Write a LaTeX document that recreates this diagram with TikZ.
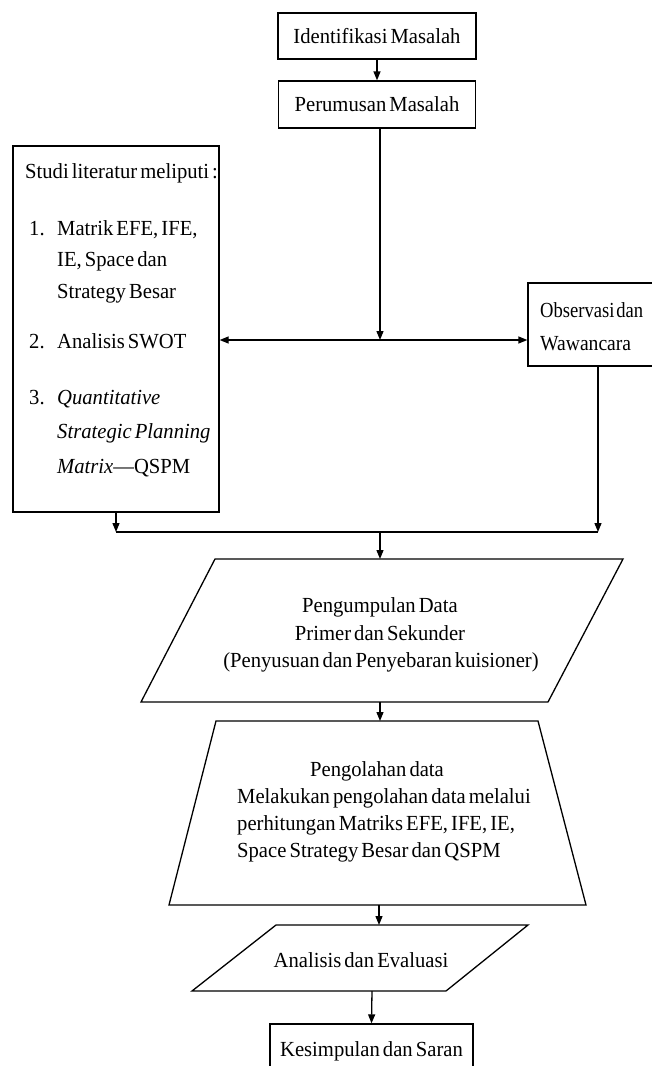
\documentclass[tikz,border=0pt]{standalone}
\usepackage{graphicx}
\usepackage{fontspec}
\setmainfont{Liberation Serif}[FakeStretch=0.96, WordSpace=0.6]
\usetikzlibrary{arrows.meta}
\begin{document}
\begin{tikzpicture}[x=1pt,y=-1pt,
  font=\fontsize{21.5}{28}\selectfont,
  box/.style={draw, line width=1.3pt, inner sep=0pt},
  txt/.style={inner sep=0pt, anchor=base west},
  ctxt/.style={inner sep=0pt, anchor=base},
  shp/.style={draw, line width=1.3pt, line join=miter},
  arr/.style={-{Triangle[length=9pt,width=7pt]}, line width=1.3pt},
  ln/.style={line width=1.3pt}]
\useasboundingbox (0,0) rectangle (652,1066);

% top boxes
\node[box, minimum width=198pt, minimum height=46pt] (ident) at (377,36) {Identifikasi Masalah};
\node[box, minimum width=197pt, minimum height=47pt] (rumus) at (377,104.5) {Perumusan Masalah};

% studi literatur box
\node[box, minimum width=206pt, minimum height=366pt] (studi) at (116,329) {};
\node[txt] (s0) at (25,178) {Studi literatur meliputi :};
\node[txt] (s1n) at (29,235) {1.};
\node[txt] (s1a) at (57,235) {Matrik EFE, IFE,};
\node[txt] (s1b) at (57,266) {IE, Space dan};
\node[txt] (s1c) at (57,298) {Strategy Besar};
\node[txt] (s2n) at (29,348) {2.};
\node[txt] (s2a) at (57,348) {Analisis SWOT};
\node[txt] (s3n) at (29,404) {3.};
\node[txt] (s3a) at (57,404) {\itshape Quantitative};
\node[txt] (s3b) at (57,438) {\itshape Strategic Planning};
\node[txt] (s3c) at (57,473) {\textit{Matrix}---QSPM};

% observasi box
\node[box, minimum width=140pt, minimum height=83pt] (obs) at (598,324.5) {};
\node[txt] (o1) at (540,317) {\scalebox{0.9}[1]{Observasi\kern-1pt\ dan}};
\node[txt] (o2) at (540,350) {\scalebox{0.95}[1]{Wawancara}};

% junctions
\coordinate (j1) at (380,340);
\coordinate (j2) at (380,532);

% parallelogram 1
\coordinate (p1tl) at (215,559);
\coordinate (p1tr) at (623,559);
\coordinate (p1br) at (548,702);
\coordinate (p1bl) at (141,702);
\coordinate (p1t) at (380,559);
\coordinate (p1b) at (380,702);
\draw[shp] (p1tl) -- (p1tr) -- (p1br) -- (p1bl) -- cycle;
\node[ctxt] (p1a) at (380,612) {Pengumpulan Data};
\node[ctxt] (p1c) at (380,640) {Primer dan Sekunder};
\node[ctxt] (p1d) at (381,667) {(Penyusuan dan Penyebaran kuisioner)};

% trapezium
\coordinate (ttl) at (216,721);
\coordinate (ttr) at (538,721);
\coordinate (tbr) at (586,905);
\coordinate (tbl) at (169,905);
\coordinate (tt) at (380,721);
\coordinate (tb) at (379,905);
\draw[shp] (ttl) -- (ttr) -- (tbr) -- (tbl) -- cycle;
\node[ctxt] (t1) at (377,776) {Pengolahan data};
\node[txt] (t2) at (237,803) {Melakukan pengolahan data melalui};
\node[txt] (t3) at (237,830) {perhitungan Matriks EFE, IFE, IE,};
\node[txt] (t4) at (237,857) {Space Strategy Besar dan QSPM};

% parallelogram 2
\coordinate (p2tl) at (276,925);
\coordinate (p2tr) at (528,925);
\coordinate (p2br) at (446,991);
\coordinate (p2bl) at (192,991);
\coordinate (p2t) at (379,925);
\coordinate (p2b) at (372,991);
\draw[shp] (p2tl) -- (p2tr) -- (p2br) -- (p2bl) -- cycle;
\node[ctxt] (p2a) at (361,967) {Analisis dan Evaluasi};

% final box
\node[box, minimum width=203pt, minimum height=60pt] (kes) at (371.5,1054) {};
\node[ctxt] (k1) at (371.5,1056) {Kesimpulan dan Saran};

% connectors
\draw[arr] (ident.south) -- (rumus.north);
\draw[arr] (rumus.south -| j1) -- (j1);
\draw[arr] (j1) -- (studi.east |- j1);
\draw[arr] (j1) -- (obs.west |- j1);
\draw[arr] (studi.south) -- (studi.south |- j2);
\draw[arr] (obs.south) -- (obs.south |- j2);
\draw[ln] (studi.south |- j2) -- (obs.south |- j2);
\draw[arr] (j2) -- (p1t);
\draw[arr] (p1b) -- (tt);
\draw[arr] (tb) -- (p2t);
\draw[arr] (p2b) -- (kes.north);
\end{tikzpicture}
\end{document}
